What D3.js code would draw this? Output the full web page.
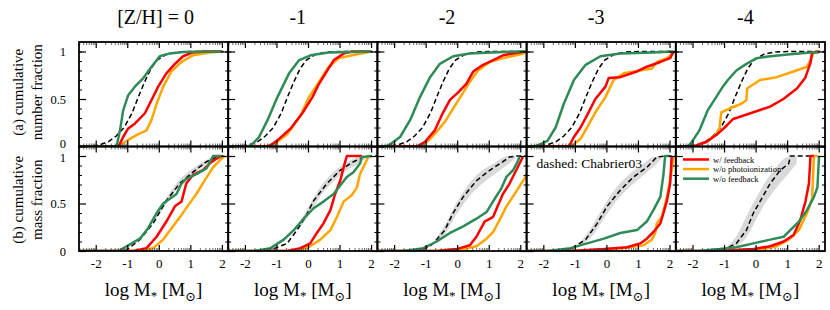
<!DOCTYPE html>
<html>
<head>
<meta charset="utf-8">
<script src="https://cdn.jsdelivr.net/npm/d3@7"></script>
<style>
  body { margin: 0; background: #fff; }
  text { font-family: "Liberation Serif", "DejaVu Serif", serif; fill: #000; }
</style>
</head>
<body>
<div id="chart"></div>
<script>
// --- data ---
const columnTitles = ["[Z/H] = 0", "-1", "-2", "-3", "-4"];
const rowLabels = [["(a) cumulative", "number fraction"], ["(b) cumulative", "mass fraction"]];
const xTickValues = [-2, -1, 0, 1, 2];
const yTickLabels = [0, 0.5, 1];
const seriesNames = ["w/ feedback", "w/o photoionization", "w/o feedback"];
const seriesColors = ["#ff0000", "#ffa500", "#2e8b57"];

// (a) cumulative number fraction, one array per column
const numDashed = [[-2.6,0],[-2.2,0.003],[-1.9,0.015],[-1.6,0.05],[-1.35,0.11],[-1.1,0.2],[-0.85,0.35],[-0.65,0.52],[-0.45,0.68],[-0.25,0.82],[-0.05,0.91],[0.25,0.97],[0.6,0.995],[1.0,1],[2.3,1]];
const numRed = [
  [[-2.6,0],[-1.28,0],[-1.13,0.1],[-0.97,0.19],[-0.76,0.24],[-0.44,0.35],[-0.23,0.49],[-0.02,0.63],[0.24,0.77],[0.51,0.87],[0.77,0.95],[1.08,0.99],[1.4,1],[2.0,1]],
  [[-2.6,0],[-1.3,0],[-1.19,0.01],[-0.92,0.08],[-0.55,0.19],[-0.18,0.35],[0.14,0.52],[0.35,0.66],[0.61,0.8],[0.82,0.91],[1.14,0.98],[1.4,1],[2.0,1]],
  [[-2.6,0],[-1.28,0],[-1.02,0.05],[-0.71,0.17],[-0.49,0.33],[-0.23,0.49],[0.03,0.57],[0.29,0.66],[0.51,0.79],[0.82,0.86],[1.14,0.91],[1.45,0.96],[1.77,0.98],[2.14,1]],
  [[-2.6,0],[-1.19,0],[-1.03,0.1],[-0.82,0.2],[-0.61,0.33],[-0.35,0.5],[-0.03,0.63],[0.07,0.72],[0.44,0.73],[0.97,0.79],[1.28,0.84],[1.71,0.89],[2.02,0.93],[2.13,1]],
  [[-2.6,0],[-1.97,0],[-1.55,0.05],[-1.25,0.12],[-0.98,0.2],[-0.71,0.29],[-0.07,0.36],[0.46,0.42],[0.88,0.5],[1.31,0.61],[1.57,0.72],[1.74,0.88],[1.79,0.99],[2.0,1]]
];
const numOrange = [
  [[-2.6,0],[-1.28,0],[-1.02,0.06],[-0.71,0.12],[-0.39,0.17],[-0.23,0.28],[-0.07,0.45],[0.14,0.63],[0.4,0.79],[0.72,0.89],[1.08,0.96],[1.61,0.99],[2.0,1]],
  [[-2.6,0],[-1.29,0],[-0.97,0.05],[-0.66,0.13],[-0.23,0.33],[0.03,0.52],[0.35,0.68],[0.66,0.84],[0.98,0.93],[1.4,0.96],[2.0,1]],
  [[-2.6,0],[-1.18,0],[-0.92,0.06],[-0.66,0.15],[-0.39,0.26],[-0.13,0.4],[0.14,0.54],[0.4,0.68],[0.66,0.8],[1.03,0.89],[1.45,0.93],[1.87,0.96],[2.14,0.98]],
  [[-2.6,0],[-1.14,0],[-0.82,0.08],[-0.61,0.2],[-0.35,0.36],[-0.03,0.52],[0.23,0.7],[0.55,0.77],[1.07,0.8],[1.44,0.82],[1.6,0.89],[1.92,0.93],[2.13,0.99]],
  [[-2.6,0],[-1.97,0],[-1.55,0.05],[-1.25,0.13],[-1.14,0.2],[-1.09,0.36],[-0.82,0.4],[-0.45,0.45],[-0.29,0.49],[-0.27,0.61],[0.14,0.7],[0.67,0.73],[1.2,0.79],[1.63,0.84],[1.74,0.91],[1.84,0.99],[2.0,1]]
];
const numGreen = [
  [[-2.6,0],[-1.34,0],[-1.23,0.17],[-1.13,0.38],[-0.97,0.54],[-0.76,0.63],[-0.49,0.72],[-0.23,0.84],[0.03,0.95],[0.35,0.98],[0.77,0.995],[2.0,1]],
  [[-2.6,0],[-1.95,0],[-1.81,0.01],[-1.55,0.1],[-1.28,0.28],[-0.97,0.52],[-0.6,0.77],[-0.28,0.91],[0.08,0.96],[0.66,0.99],[2.0,1]],
  [[-2.6,0],[-2.3,0],[-2.18,0.01],[-1.81,0.1],[-1.49,0.28],[-1.18,0.52],[-0.86,0.73],[-0.55,0.87],[-0.13,0.95],[0.4,0.98],[1.45,0.995],[2.14,1]],
  [[-2.6,0],[-2.3,0],[-2.19,0.01],[-1.87,0.06],[-1.61,0.2],[-1.35,0.45],[-1.03,0.7],[-0.66,0.86],[-0.19,0.95],[0.44,0.98],[1.49,0.99],[2.13,1]],
  [[-2.6,0],[-2.2,0],[-2.1,0.01],[-1.78,0.17],[-1.52,0.38],[-1.25,0.52],[-1.04,0.63],[-0.88,0.7],[-0.61,0.8],[-0.29,0.87],[0.03,0.93],[0.46,0.95],[1.1,0.97],[1.74,0.99],[2.0,0.99]]
];

// (b) cumulative mass fraction
const massDashed = [
  [[-2.6,0],[-1.3,0],[-1.02,0.01],[-0.6,0.12],[-0.18,0.29],[0.24,0.53],[0.66,0.71],[1.08,0.83],[1.51,0.94],[1.72,0.97],[1.9,1],[2.3,1]],
  [[-2.6,0],[-1.5,0],[-1.19,0.01],[-0.66,0.08],[-0.35,0.22],[-0.08,0.36],[0.18,0.53],[0.6,0.71],[1.02,0.85],[1.44,0.94],[1.65,0.97],[1.8,1],[2.3,1]],
  [[-2.6,0],[-1.5,0],[-1.18,0.01],[-0.86,0.05],[-0.65,0.12],[-0.39,0.22],[-0.13,0.4],[0.19,0.57],[0.61,0.74],[1.03,0.85],[1.45,0.94],[1.66,0.99],[1.87,1],[2.3,1]],
  [[-2.6,0],[-1.5,0],[-1.14,0.02],[-0.66,0.12],[-0.29,0.29],[0.02,0.47],[0.44,0.64],[0.86,0.78],[1.28,0.88],[1.6,0.99],[1.92,1],[2.3,1]],
  [[-2.6,0],[-1.4,0],[-1.04,0.01],[-0.61,0.08],[-0.29,0.22],[-0.07,0.4],[0.19,0.55],[0.46,0.71],[0.78,0.85],[1.05,0.92],[1.1,1],[1.96,1]]
];
// grey band: [x, low, high]
const massBand = [
  [[-0.2,0.28,0.32],[0.2,0.48,0.54],[0.6,0.66,0.73],[1.0,0.78,0.85],[1.4,0.89,0.94],[1.8,0.97,1.0]],
  [[-0.3,0.22,0.28],[0.0,0.36,0.46],[0.4,0.58,0.68],[0.8,0.73,0.83],[1.2,0.84,0.93],[1.6,0.92,0.99],[1.85,0.98,1.0]],
  [[-0.7,0.08,0.12],[-0.4,0.17,0.27],[0.0,0.4,0.52],[0.4,0.58,0.72],[0.8,0.71,0.85],[1.2,0.81,0.93],[1.6,0.91,1.0],[1.85,0.98,1.0]],
  [[-0.8,0.06,0.1],[-0.5,0.14,0.24],[-0.1,0.33,0.46],[0.3,0.52,0.66],[0.7,0.66,0.8],[1.1,0.78,0.9],[1.5,0.89,0.99],[1.75,0.97,1.0]],
  [[-0.9,0.02,0.05],[-0.6,0.05,0.16],[-0.3,0.14,0.36],[0.0,0.32,0.55],[0.3,0.5,0.72],[0.6,0.64,0.86],[0.9,0.76,0.97],[1.2,0.88,1.0],[1.3,0.92,1.0]]
];
const massRed = [
  [[-2.6,0],[-0.81,0],[-0.39,0.03],[-0.07,0.15],[0.24,0.31],[0.51,0.47],[0.72,0.52],[0.87,0.71],[1.08,0.8],[1.4,0.85],[1.61,0.92],[1.82,0.97],[1.98,1]],
  [[-2.6,0],[-0.66,0],[-0.24,0.03],[0.07,0.08],[0.28,0.19],[0.49,0.29],[0.71,0.43],[0.86,0.6],[1.02,0.74],[1.13,0.88],[1.23,1],[1.71,1]],
  [[-2.6,0],[-0.65,0],[-0.02,0.02],[0.4,0.06],[0.61,0.15],[0.87,0.31],[1.14,0.36],[1.29,0.48],[1.45,0.6],[1.66,0.71],[1.87,0.85],[2.08,0.99]],
  [[-2.6,0],[-1.14,0],[-0.08,0.02],[0.65,0.04],[1.07,0.08],[1.28,0.13],[1.49,0.2],[1.71,0.29],[1.81,0.4],[1.92,0.53],[2.02,0.71],[2.07,1]],
  [[-2.6,0],[-1.14,0],[-0.07,0.02],[0.46,0.05],[0.89,0.1],[1.21,0.17],[1.42,0.33],[1.58,0.52],[1.69,0.71],[1.74,1],[1.85,1]]
];
const massOrange = [
  [[-2.6,0],[-0.6,0],[-0.18,0.03],[0.14,0.12],[0.45,0.26],[0.72,0.38],[0.93,0.48],[1.19,0.6],[1.45,0.74],[1.72,0.88],[1.98,0.97],[2.1,1]],
  [[-2.6,0],[-0.35,0],[0.07,0.05],[0.39,0.12],[0.71,0.22],[0.92,0.36],[1.13,0.52],[1.39,0.59],[1.55,0.67],[1.65,0.81],[1.81,0.92],[1.92,1],[2.02,1]],
  [[-2.6,0],[-0.44,0],[0.19,0.02],[0.61,0.05],[0.93,0.13],[1.14,0.2],[1.35,0.33],[1.56,0.47],[1.82,0.6],[2.03,0.71],[2.14,0.76],[2.3,0.9]],
  [[-2.6,0],[-1.14,0],[-0.08,0.01],[0.76,0.04],[1.18,0.06],[1.44,0.12],[1.55,0.19],[1.6,0.29],[1.76,0.36],[1.92,0.57],[2.02,0.74],[2.13,0.99]],
  [[-2.6,0],[-1.14,0],[0.25,0.02],[0.67,0.05],[1.05,0.12],[1.37,0.22],[1.63,0.4],[1.79,0.55],[1.85,1],[1.96,1]]
];
const massGreen = [
  [[-2.6,0],[-1.28,0],[-1.02,0.05],[-0.6,0.13],[-0.34,0.24],[-0.07,0.4],[0.14,0.5],[0.35,0.55],[0.56,0.6],[0.72,0.71],[0.87,0.76],[1.19,0.81],[1.51,0.87],[1.72,1],[2.0,1]],
  [[-2.6,0],[-1.72,0],[-1.19,0.03],[-0.77,0.12],[-0.45,0.22],[-0.14,0.34],[0.18,0.45],[0.49,0.52],[0.81,0.6],[1.02,0.69],[1.23,0.78],[1.44,0.83],[1.65,0.92],[1.71,0.99],[2.02,1]],
  [[-2.6,0],[-1.7,0],[-1.07,0.03],[-0.65,0.1],[-0.23,0.19],[0.19,0.26],[0.61,0.34],[0.93,0.41],[1.19,0.55],[1.4,0.66],[1.56,0.78],[1.77,0.85],[1.93,0.95],[1.98,1]],
  [[-2.6,0],[-1.87,0],[-1.14,0.03],[-0.61,0.08],[-0.08,0.13],[0.44,0.19],[0.97,0.22],[1.28,0.31],[1.49,0.43],[1.71,0.57],[1.81,0.81],[1.86,1],[1.97,1]],
  [[-2.6,0],[-1.8,0],[-1.14,0.02],[-0.61,0.04],[-0.07,0.08],[0.46,0.12],[0.89,0.15],[1.1,0.22],[1.37,0.31],[1.63,0.43],[1.85,0.57],[1.96,0.67],[2.01,1]]
];

// --- layout ---
const width = 830, height = 310;
const left0 = 79, panelW = 149.2, rowH = 104.5;
const rowTop = [42, 146.5];
const xDomain = [-2.53, 2.2], yDomain = [0, 1.1];

const svg = d3.select("#chart").append("svg")
  .attr("width", width)
  .attr("height", height);

// log-style minor ticks between integers
const xMinor = [];
for (let n = -3; n <= 2; n++) {
  for (let k = 2; k <= 9; k++) {
    const v = n + Math.log10(k);
    if (v > xDomain[0] && v < xDomain[1]) xMinor.push(v);
  }
}
const yMinor = d3.range(1, 11).map(i => i / 10).filter(v => v !== 0.5);

const line = (x, y) => d3.line().x(d => x(d[0])).y(d => y(d[1]));

const rows = [
  { dashed: c => numDashed, red: numRed, orange: numOrange, green: numGreen, band: null },
  { dashed: c => massDashed[c], red: massRed, orange: massOrange, green: massGreen, band: massBand }
];

rows.forEach((row, r) => {
  for (let c = 0; c < 5; c++) {
    const left = left0 + c * panelW;
    const top = rowTop[r];
    const x = d3.scaleLinear().domain(xDomain).range([left, left + panelW]);
    const y = d3.scaleLinear().domain(yDomain).range([top + rowH, top]);
    const id = `clip-${r}-${c}`;
    svg.append("clipPath").attr("id", id)
      .append("rect").attr("x", left).attr("y", top).attr("width", panelW).attr("height", rowH);
    const g = svg.append("g").attr("clip-path", `url(#${id})`);

    if (row.band) {
      g.append("path")
        .datum(row.band[c])
        .attr("fill", "#d9d9d9")
        .attr("d", d3.area().x(d => x(d[0])).y0(d => y(d[1])).y1(d => y(d[2])).curve(d3.curveMonotoneX));
    }
    g.append("path")
      .datum(row.dashed(c))
      .attr("fill", "none")
      .attr("stroke", "#000")
      .attr("stroke-width", 1.5)
      .attr("stroke-dasharray", "5,3")
      .attr("d", line(x, y));

    [[row.orange, seriesColors[1]], [row.red, seriesColors[0]], [row.green, seriesColors[2]]].forEach(([arr, col]) => {
      g.append("path")
        .datum(arr[c])
        .attr("fill", "none")
        .attr("stroke", col)
        .attr("stroke-width", 2.5)
        .attr("stroke-linejoin", "round")
        .attr("d", line(x, y));
    });

    // ticks, all pointing inward
    const bottomLabels = r === 1;
    svg.append("g").attr("transform", `translate(0,${top + rowH})`)
      .call(d3.axisBottom(x).tickValues(xMinor).tickSize(-3).tickFormat(""))
      .call(a => a.select(".domain").remove())
      .call(a => a.selectAll("line").attr("stroke", "#444").attr("stroke-width", 0.8));
    svg.append("g").attr("transform", `translate(0,${top})`)
      .call(d3.axisTop(x).tickValues(xMinor).tickSize(-3).tickFormat(""))
      .call(a => a.select(".domain").remove())
      .call(a => a.selectAll("line").attr("stroke", "#444").attr("stroke-width", 0.8));
    svg.append("g").attr("transform", `translate(0,${top + rowH})`)
      .call(d3.axisBottom(x).tickValues(xTickValues).tickSize(-6).tickPadding(8)
        .tickFormat(bottomLabels ? d => String(d) : ""))
      .call(a => a.select(".domain").remove())
      .call(a => a.selectAll("line").attr("stroke-width", 1.2))
      .call(a => a.selectAll("text").attr("font-size", 13).attr("fill", "#000")
        .attr("font-family", "Liberation Serif"));
    svg.append("g").attr("transform", `translate(0,${top})`)
      .call(d3.axisTop(x).tickValues(xTickValues).tickSize(-6).tickFormat(""))
      .call(a => a.select(".domain").remove())
      .call(a => a.selectAll("line").attr("stroke-width", 1.2));

    svg.append("g").attr("transform", `translate(${left},0)`)
      .call(d3.axisLeft(y).tickValues(yMinor).tickSize(-3).tickFormat(""))
      .call(a => a.select(".domain").remove());
    svg.append("g").attr("transform", `translate(${left + panelW},0)`)
      .call(d3.axisRight(y).tickValues(yMinor).tickSize(-3).tickFormat(""))
      .call(a => a.select(".domain").remove());
    svg.append("g").attr("transform", `translate(${left},0)`)
      .call(d3.axisLeft(y).tickValues(yTickLabels).tickSize(-7).tickPadding(13)
        .tickFormat(c === 0 ? d => String(d) : ""))
      .call(a => a.select(".domain").remove())
      .call(a => a.selectAll("line").attr("stroke-width", 1.2))
      .call(a => a.selectAll("text").attr("font-size", 12.5).attr("fill", "#000")
        .attr("font-family", "Liberation Serif")
        .attr("dy", d => (r === 0 && d === 0) ? "0.1em" : (r === 1 && d === 1) ? "0.45em" : "0.32em"));
    svg.append("g").attr("transform", `translate(${left + panelW},0)`)
      .call(d3.axisRight(y).tickValues(yTickLabels).tickSize(-7).tickFormat(""))
      .call(a => a.select(".domain").remove())
      .call(a => a.selectAll("line").attr("stroke-width", 1.2));

    svg.append("rect")
      .attr("x", left).attr("y", top)
      .attr("width", panelW).attr("height", rowH)
      .attr("fill", "none")
      .attr("stroke", "#000")
      .attr("stroke-width", 1.8);

    // x axis title under each bottom panel
    if (r === 1) {
      const t = svg.append("text")
        .attr("x", left + panelW / 2)
        .attr("y", 296)
        .attr("text-anchor", "middle")
        .attr("font-size", 19);
      t.append("tspan").text("log M");
      t.append("tspan").attr("font-size", 13).attr("dy", 4).text("*");
      t.append("tspan").attr("dy", -4).text(" [M");
      t.append("tspan").attr("font-size", 13).attr("dy", 5).text("\u2299");
      t.append("tspan").attr("dy", -5).text("]");
    }
    if (r === 0) {
      svg.append("text")
        .attr("x", left + panelW / 2 + (c === 0 ? 2 : -5))
        .attr("y", 24)
        .attr("text-anchor", "middle")
        .attr("font-size", 20)
        .text(columnTitles[c]);
    }
  }
});

// row labels
rowLabels.forEach((lbl, r) => {
  const cy = rowTop[r] + rowH / 2 - (r === 0 ? 2 : -1);
  lbl.forEach((t, i) => {
    svg.append("text")
      .attr("transform", `translate(${18 + i * 19},${cy}) rotate(-90)`)
      .attr("text-anchor", "middle")
      .attr("dominant-baseline", "central")
      .attr("font-size", 15)
      .text(t);
  });
});

// annotation and legend
svg.append("text")
  .attr("x", left0 + 3 * panelW + 10)
  .attr("y", 168)
  .attr("font-size", 13.5)
  .text("dashed: Chabrier03");

const legend = svg.append("g");
seriesNames.forEach((name, i) => {
  const ly = 159.5 + i * 9.6;
  legend.append("line")
    .attr("x1", 683).attr("x2", 709)
    .attr("y1", ly).attr("y2", ly)
    .attr("stroke", seriesColors[i])
    .attr("stroke-width", 2.5);
  legend.append("text")
    .attr("x", 713).attr("y", ly)
    .attr("dominant-baseline", "central")
    .attr("font-size", 8.5)
    .text(name);
});
</script>
</body>
</html>
